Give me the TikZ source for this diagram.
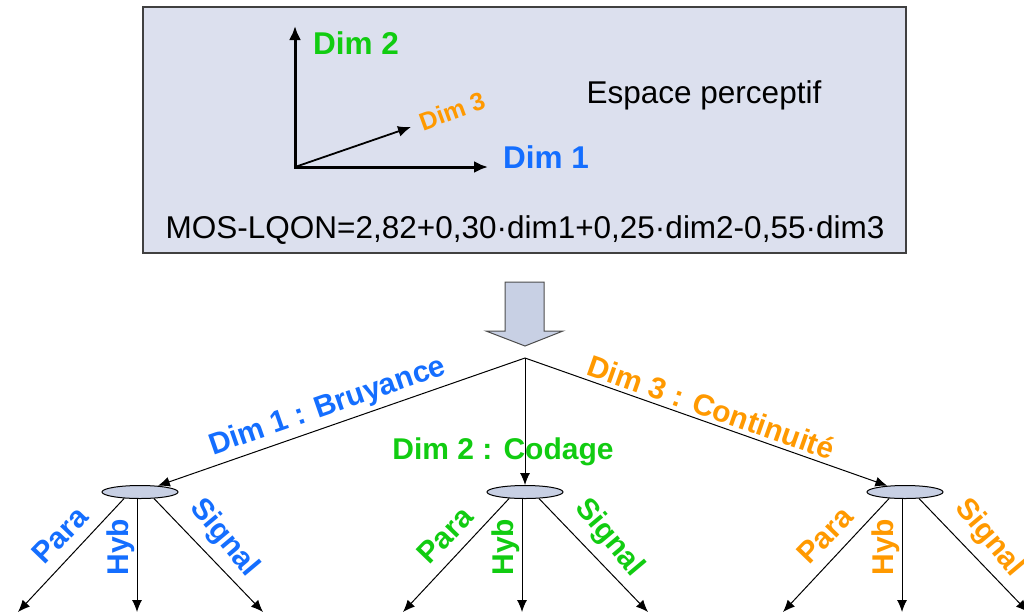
\documentclass[tikz,border=0pt]{standalone}
\usepackage{fontspec}
\setmainfont{Liberation Sans}
\usetikzlibrary{arrows.meta}
\usetikzlibrary{shapes.geometric}
\usetikzlibrary{positioning}
\definecolor{dimblue}{RGB}{20,110,255}
\definecolor{dimgreen}{RGB}{17,204,17}
\definecolor{dimorange}{RGB}{255,153,0}
\definecolor{panelfill}{RGB}{220,224,238}
\definecolor{discfill}{RGB}{200,208,228}
\newcommand{\lblsize}{\fontsize{30}{36}\selectfont}
\newcommand{\topsize}{\fontsize{31.5}{36}\selectfont}
\newcommand{\smlsize}{\fontsize{25}{28}\selectfont}

\begin{document}
\begin{tikzpicture}[x=1pt, y=-1pt,
    >={Latex[length=12pt,width=10pt]},
    panel/.style={draw=black!75, line width=1.5pt, fill=panelfill,
      minimum width=763pt, minimum height=246pt},
    axis/.style={line width=3pt, {Latex[length=14pt,width=12pt]}-{Latex[length=14pt,width=12pt]}},
    link/.style={line width=1pt, ->},
    disc/.style={ellipse, draw, line width=1pt, fill=discfill,
      minimum width=76pt, minimum height=13pt, inner sep=0pt},
    lbl/.style={font=\lblsize\bfseries, inner sep=0pt}]
    \useasboundingbox (0,0) rectangle (1024,614);

    % espace perceptif
    \node[panel] (espace) at (524.5,130) {};
    \coordinate (o) at (295,167);
    \coordinate (ax1) at (488,167);
    \coordinate (ax2) at (295,26);
    \coordinate (ax3) at (411,127);
    \draw[axis] (ax2) -- (o) -- (ax1);
    \draw[line width=1.8pt, -{Latex[length=13pt,width=11pt]}] (o) -- (ax3);
    \node[lbl, font=\topsize\bfseries, text=dimgreen] (lab2) at (356,43) {Dim 2};
    \node[lbl, font=\topsize\bfseries, text=dimblue] (lab1) at (546,157) {Dim 1};
    \node[lbl, font=\smlsize\bfseries, text=dimorange, rotate=20] (lab3) at (452,111) {Dim 3};
    \node[font=\topsize, anchor=base] (titre) at (704,103) {Espace perceptif};
    \node[font=\topsize, anchor=base] (mos) at (525,238) {MOS-LQON=2,82+0,30·dim1+0,25·dim2-0,55·dim3};

    % fleche
    \draw[draw=black!70, line width=1pt, fill=discfill]
      (505,282) -- (544,282) -- (544,331) -- (563,331) -- (525,346)
      -- (486,331) -- (505,331) -- cycle;

    % arbre
    \coordinate (root) at (525,358);
    \node[disc] (d1) at (140,492) {};
    \node[disc] (d2) at (525,492) {};
    \node[disc] (d3) at (905,492) {};
    \draw[link] (root) -- node[lbl, sloped, above=4pt, pos=0.52, text=dimblue] {Dim 1 : Bruyance} (d1);
    \draw[link] (root) -- (d2);
    \draw[link] (root) -- node[lbl, sloped, above=4pt, text=dimorange] {Dim 3 : Continuité} (d3);
    \node[lbl, text=dimgreen] (lab22) at (503,452) {Dim 2 : Codage};

    \foreach \i/\c in {1/dimblue, 2/dimgreen, 3/dimorange} {
      \coordinate (para\i) at ([shift={(-122,120)}]d\i.center);
      \coordinate (hyb\i) at ([shift={(-3,120)}]d\i.center);
      \coordinate (sig\i) at ([shift={(123,120)}]d\i.center);
      \draw[link] (d\i.202) -- (para\i);
      \draw[link] ([xshift=-3pt]d\i.south) -- (hyb\i);
      \draw[link] (d\i.335) -- (sig\i);
      \node[lbl, text=\c, rotate=46] at ([shift={(-80,43)}]d\i.center) {Para};
      \node[lbl, text=\c, rotate=90] at ([shift={(-19,55)}]d\i.center) {Hyb};
      \node[lbl, text=\c, rotate=-50] at ([shift={(84,46)}]d\i.center) {Signal};
    }
  \end{tikzpicture}
\end{document}
